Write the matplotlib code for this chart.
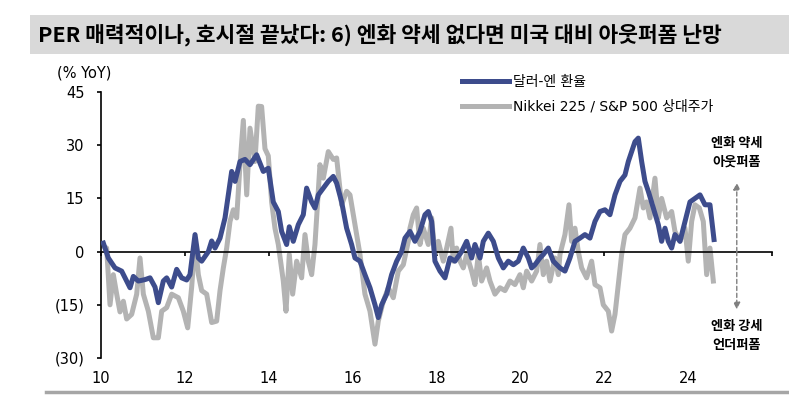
"""엔화 약세와 일본 상대주가: 달러-엔 환율 vs Nikkei 225 / S&P 500 (% YoY)."""

import matplotlib
matplotlib.use("Agg")
import matplotlib.pyplot as plt
from matplotlib.patches import Rectangle
from matplotlib.lines import Line2D

plt.rcParams["font.family"] = ["DejaVu Sans", "Noto Sans CJK KR"]

# Series, x in fractional years (yy), y in % YoY.
usdjpy_t = [
    10.056, 10.175, 10.334, 10.493, 10.612, 10.692, 10.771, 10.890, 11.049, 11.169,
    11.288, 11.367, 11.486, 11.566, 11.685, 11.804, 11.924, 12.043, 12.122, 12.242,
    12.321, 12.401, 12.560, 12.639, 12.719, 12.838, 12.957, 13.037, 13.116, 13.196,
    13.315, 13.434, 13.552, 13.711, 13.870, 13.989, 14.108, 14.228, 14.307, 14.426,
    14.490, 14.585, 14.705, 14.824, 14.903, 15.023, 15.102, 15.182, 15.301, 15.420,
    15.539, 15.619, 15.738, 15.857, 15.976, 16.056, 16.175, 16.294, 16.414, 16.533,
    16.612, 16.692, 16.811, 16.930, 17.050, 17.169, 17.248, 17.367, 17.486, 17.606,
    17.725, 17.804, 17.884, 17.963, 18.083, 18.202, 18.321, 18.440, 18.599, 18.719,
    18.838, 18.917, 19.037, 19.116, 19.235, 19.355, 19.474, 19.593, 19.712, 19.832,
    19.951, 20.070, 20.189, 20.269, 20.348, 20.467, 20.547, 20.666, 20.785, 20.944,
    21.063, 21.182, 21.302, 21.421, 21.540, 21.659, 21.779, 21.898, 22.017, 22.136,
    22.256, 22.375, 22.494, 22.574, 22.653, 22.733, 22.812, 22.892, 22.971, 23.051,
    23.170, 23.289, 23.368, 23.448, 23.527, 23.607, 23.686, 23.806, 23.925, 24.044,
    24.163, 24.283, 24.402, 24.521, 24.617,
]
usdjpy_v = [
    2.4, -1.8, -4.6, -5.5, -8.3, -10.2, -7.0, -8.3, -7.9, -7.4,
    -10.0, -14.4, -8.3, -7.4, -10.0, -5.0, -7.4, -8.0, -6.5, 4.8,
    -1.8, -2.7, 0.0, 3.0, 1.0, 3.8, 9.5, 16.0, 22.6, 19.8,
    25.4, 26.0, 24.5, 27.3, 22.6, 23.5, 14.0, 11.3, 5.7, 2.0,
    7.0, 2.9, 7.6, 10.4, 17.9, 14.0, 12.3, 16.0, 17.9, 19.8,
    21.2, 19.3, 14.0, 6.6, 2.0, -1.8, -2.7, -6.5, -10.2, -15.0,
    -18.6, -15.0, -12.0, -6.5, -2.7, 0.0, 3.8, 5.7, 2.9, 5.7,
    10.4, 11.3, 8.5, -2.7, -5.5, -7.4, -1.8, -2.7, 0.0, 2.9,
    -1.8, 2.0, -1.8, 2.9, 5.2, 2.9, -1.8, -4.6, -2.7, -3.7,
    -2.7, 1.0, -1.8, -4.6, -3.7, -1.8, -0.8, 1.0, -2.7, -4.6,
    -5.5, -1.8, 2.9, 3.8, 4.8, 3.8, 8.5, 11.3, 11.8, 10.4,
    16.0, 19.8, 21.6, 25.4, 28.2, 31.0, 32.0, 25.4, 19.8, 17.0,
    12.3, 7.6, 2.9, 6.6, 2.9, 1.0, 4.8, 2.9, 8.5, 14.0,
    15.0, 16.0, 13.2, 13.2, 3.4,
]

relative_t = [
    10.056, 10.135, 10.215, 10.294, 10.374, 10.453, 10.533, 10.612, 10.731, 10.851,
    10.930, 11.010, 11.129, 11.248, 11.367, 11.447, 11.566, 11.685, 11.844, 11.963,
    12.067, 12.162, 12.242, 12.321, 12.401, 12.520, 12.639, 12.758, 12.838, 12.917,
    12.997, 13.076, 13.156, 13.235, 13.315, 13.394, 13.474, 13.553, 13.671, 13.751,
    13.830, 13.910, 13.989, 14.069, 14.148, 14.228, 14.347, 14.411, 14.490, 14.570,
    14.665, 14.784, 14.864, 14.943, 15.023, 15.102, 15.221, 15.301, 15.420, 15.539,
    15.619, 15.738, 15.857, 15.937, 16.056, 16.175, 16.294, 16.414, 16.533, 16.612,
    16.732, 16.851, 16.970, 17.089, 17.209, 17.328, 17.367, 17.447, 17.526, 17.606,
    17.685, 17.804, 17.884, 17.963, 18.043, 18.162, 18.242, 18.345, 18.401, 18.480,
    18.560, 18.639, 18.719, 18.838, 18.917, 18.997, 19.076, 19.196, 19.275, 19.394,
    19.514, 19.633, 19.752, 19.871, 19.990, 20.070, 20.149, 20.269, 20.388, 20.467,
    20.547, 20.626, 20.706, 20.825, 20.905, 20.944, 21.063, 21.159, 21.222, 21.302,
    21.381, 21.461, 21.580, 21.699, 21.779, 21.898, 21.977, 22.097, 22.176, 22.256,
    22.335, 22.415, 22.494, 22.613, 22.733, 22.852, 22.931, 23.011, 23.090, 23.209,
    23.289, 23.368, 23.488, 23.607, 23.686, 23.806, 23.925, 24.004, 24.084, 24.163,
    24.267, 24.362, 24.442, 24.521, 24.601,
]
relative_v = [
    1.5, 1.0, -15.0, -6.5, -12.0, -17.0, -14.0, -19.0, -17.7, -12.0,
    -1.8, -12.0, -16.8, -24.3, -24.3, -16.8, -15.8, -12.0, -13.0, -16.8,
    -21.5, -10.0, 2.9, -6.5, -11.0, -12.0, -20.0, -19.6, -11.0, -4.6,
    1.0, 8.5, 11.8, 9.5, 24.5, 37.0, 16.0, 34.8, 25.4, 41.0,
    40.9, 29.0, 27.0, 14.0, 6.6, 2.0, -8.3, -16.8, -0.8, -12.0,
    -2.7, -7.4, 4.8, -2.7, -6.5, 2.0, 24.5, 20.7, 28.2, 26.0,
    26.4, 13.2, 17.0, 16.0, 7.6, -0.8, -12.0, -16.8, -26.1, -19.6,
    -14.0, -10.2, -13.0, -5.5, -3.7, 2.9, 6.6, 10.4, 12.3, 2.0,
    6.6, 2.0, 9.5, -0.8, 2.9, -2.7, 1.0, 6.6, -2.7, 1.0,
    -2.7, -4.6, -0.8, -5.5, -9.3, -0.8, -8.3, -4.6, -8.3, -12.0,
    -10.2, -11.0, -8.3, -9.3, -6.5, -10.2, -5.5, -8.3, -5.5, 2.0,
    -6.5, -2.7, -8.3, -1.8, -6.5, -0.8, 4.8, 13.2, 2.9, 6.6,
    0.0, -4.6, -7.4, -2.7, -9.3, -10.2, -15.0, -16.8, -22.4, -17.7,
    -9.3, -0.8, 4.8, 6.6, 9.5, 17.9, 12.3, 14.0, 9.5, 20.7,
    9.5, 15.0, 9.5, 11.3, 5.7, 2.9, 6.6, -2.7, 8.5, 13.2,
    12.3, 8.5, -6.5, 1.0, -8.3,
]

series_labels = ["달러-엔 환율", "Nikkei 225 / S&P 500 상대주가"]
y_ticks = [-30, -15, 0, 15, 30, 45]
y_ticklabels = ["(30)", "(15)", "0", "15", "30", "45"]
x_ticks = [10, 12, 14, 16, 18, 20, 22, 24, 26]
x_ticklabels = ["10", "12", "14", "16", "18", "20", "22", "24", ""]

title = "PER 매력적이나, 호시절 끝났다: 6) 엔화 약세 없다면 미국 대비 아웃퍼폼 난망"

BLUE = "#3d4c8c"
GRAY = "#b3b3b3"

W, H = 789, 396
fig = plt.figure(figsize=(W / 100, H / 100), dpi=100)

# Title bar.
fig.patches.append(Rectangle((30 / W, 1 - 54 / H), 1 - 30 / W, 39 / H,
                             transform=fig.transFigure, facecolor="#d9d9d9",
                             edgecolor="none", zorder=0))
fig.text(38 / W, 1 - 35 / H, title, fontsize=15.5, fontweight="bold",
         family=["Noto Sans CJK KR", "DejaVu Sans"], va="center", ha="left")
# Bottom rule.
fig.add_artist(Line2D([46 / W, 1], [1 - 392 / H] * 2, transform=fig.transFigure,
                      color="#a6a6a6", lw=2.5))

ax = fig.add_axes([101 / W, 1 - 358 / H, (772 - 101) / W, (358 - 92) / H])
ax.set_xlim(10, 26)
ax.set_ylim(-30, 45)

ax.plot(relative_t, relative_v, color=GRAY, lw=3.6, label=series_labels[1],
        solid_joinstyle="round", zorder=2)
ax.plot(usdjpy_t, usdjpy_v, color=BLUE, lw=3.6, label=series_labels[0],
        solid_joinstyle="round", zorder=3)
# Keep legend order: blue first.
handles, labels = ax.get_legend_handles_labels()
ax.legend(handles[::-1], labels[::-1], loc="upper left",
          bbox_to_anchor=(462 / W, 1 - 75 / H), bbox_transform=fig.transFigure,
          frameon=False, fontsize=10, handlelength=3.4, handletextpad=0.25,
          labelspacing=0.75, borderpad=0, borderaxespad=0)

for side in ("top", "right"):
    ax.spines[side].set_visible(False)
ax.spines["bottom"].set_position(("data", 0))
ax.spines["bottom"].set_linewidth(1.2)
ax.spines["left"].set_linewidth(1.2)

ax.set_yticks(y_ticks)
ax.set_yticklabels(y_ticklabels)
ax.tick_params(axis="y", direction="out", length=3, width=1.2, pad=9, labelsize=10.5)
ax.set_xticks(x_ticks)
ax.tick_params(axis="x", direction="out", length=3, width=1.2, labelbottom=False)
for x, lab in zip(x_ticks, x_ticklabels):
    ax.text(x, -0.05, lab, transform=ax.get_xaxis_transform(), ha="center",
            va="top", fontsize=10.5)

fig.text(84 / W, 1 - 73 / H, "(% YoY)", fontsize=10.5, ha="center", va="center")

# Direction annotation.
ax_x = 25.16
for end in (19.4, -16.3):
    ax.annotate("", xy=(ax_x, end), xytext=(ax_x, 0),
                arrowprops=dict(arrowstyle="-|>", color="#7f7f7f", lw=1,
                                ls=(0, (3, 2)), mutation_scale=10,
                                shrinkA=0, shrinkB=0))
kr = ["Noto Sans CJK KR", "DejaVu Sans"]
ax.text(ax_x, 28.1, "엔화 약세\n아웃퍼폼", ha="center", va="center", fontsize=9.5,
        fontweight="bold", family=kr, linespacing=1.4, clip_on=False)
ax.text(ax_x, -23.6, "엔화 강세\n언더퍼폼", ha="center", va="center", fontsize=9.5,
        fontweight="bold", family=kr, linespacing=1.4, clip_on=False)

fig.savefig("out.png", dpi=100)
